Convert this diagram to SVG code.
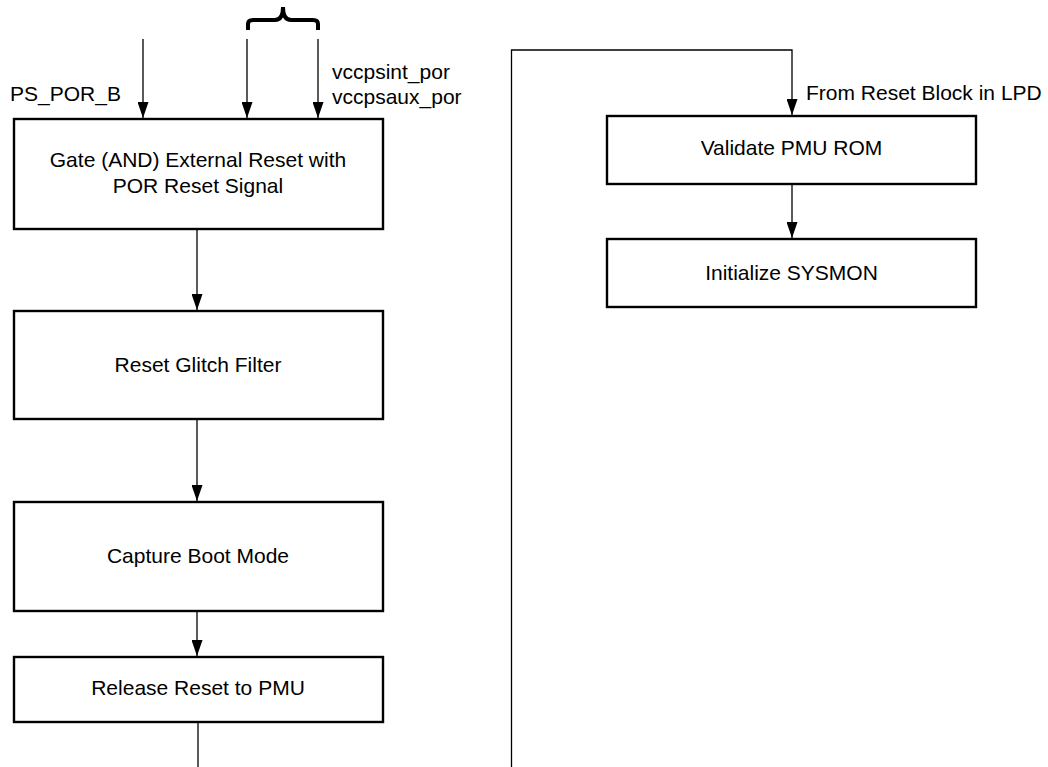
<svg xmlns="http://www.w3.org/2000/svg" width="1048" height="767" viewBox="0 0 1048 767">
<style>
.box{fill:#fff;stroke:#000;stroke-width:2.4}
.ln{fill:none;stroke:#000;stroke-width:1.3}
.t{font-family:"Liberation Sans",Arial,sans-serif;font-size:21px;fill:#000}
.c{text-anchor:middle}
</style>
<defs>
<marker id="ah" markerWidth="16" markerHeight="11" refX="16" refY="5.5" orient="auto" markerUnits="userSpaceOnUse" viewBox="0 0 16 11">
<path d="M0,0 L16,5.5 L0,11 Z" fill="#000"/>
</marker>
</defs>
<g id="connectors">
<line class="ln" x1="143" y1="39" x2="143" y2="118" marker-end="url(#ah)"/>
<line class="ln" x1="247" y1="39" x2="247" y2="118" marker-end="url(#ah)"/>
<line class="ln" x1="318" y1="39" x2="318" y2="118" marker-end="url(#ah)"/>
<line class="ln" x1="197" y1="230" x2="197" y2="310" marker-end="url(#ah)"/>
<line class="ln" x1="197" y1="420" x2="197" y2="501" marker-end="url(#ah)"/>
<line class="ln" x1="197" y1="612" x2="197" y2="656" marker-end="url(#ah)"/>
<line class="ln" x1="198" y1="723" x2="198" y2="767"/>
<polyline class="ln" points="511.5,767 511.5,50 792,50 792,115" marker-end="url(#ah)"/>
<line class="ln" x1="792" y1="185" x2="792" y2="238" marker-end="url(#ah)"/>
</g>
<g id="brace">
<path d="M248,30 L248,24 Q248,20 253,20 L275,20 Q283,20 283,7 Q283,20 291,20 L313,20 Q318,20 318,24 L318,30" fill="none" stroke="#000" stroke-width="4"/>
</g>
<g id="labels">
<text class="t" x="10" y="101">PS_POR_B</text>
<text class="t" x="332" y="79">vccpsint_por</text>
<text class="t" x="332" y="104">vccpsaux_por</text>
<text class="t" x="806" y="100">From Reset Block in LPD</text>
</g>
<g id="n1">
<rect class="box" x="14" y="119" width="369" height="110"/>
<text class="t c" x="198" y="167">Gate (AND) External Reset with</text>
<text class="t c" x="198" y="193">POR Reset Signal</text>
</g>
<g id="n2">
<rect class="box" x="14" y="311" width="369" height="108"/>
<text class="t c" x="198" y="372">Reset Glitch Filter</text>
</g>
<g id="n3">
<rect class="box" x="14" y="502" width="369" height="109"/>
<text class="t c" x="198" y="563">Capture Boot Mode</text>
</g>
<g id="n4">
<rect class="box" x="14" y="657" width="369" height="65"/>
<text class="t c" x="198" y="695">Release Reset to PMU</text>
</g>
<g id="n5">
<rect class="box" x="607" y="116" width="369" height="68"/>
<text class="t c" x="791.5" y="155">Validate PMU ROM</text>
</g>
<g id="n6">
<rect class="box" x="607" y="239" width="369" height="68"/>
<text class="t c" x="791.5" y="280">Initialize SYSMON</text>
</g>
</svg>
